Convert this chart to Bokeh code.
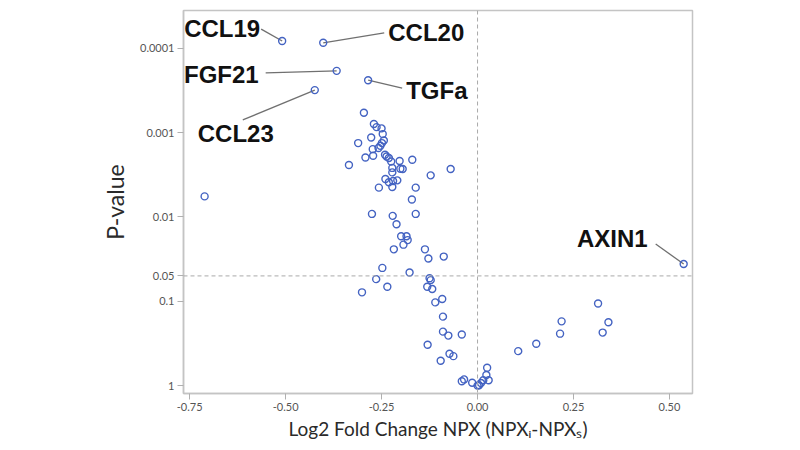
import math
from bokeh.plotting import figure
from bokeh.models import Range1d, FixedTicker, CustomJSTickFormatter, PrintfTickFormatter, Span, ColumnDataSource
from bokeh.core.properties import value
from bokeh.embed import file_html
from bokeh.resources import INLINE

# ---- data ----
fold_change = [-0.296, -0.270, -0.263, -0.250, -0.247, -0.277, -0.244, -0.311, -0.249, -0.273,
               -0.258, -0.253, -0.272, -0.292, -0.241, -0.237, -0.231, -0.225, -0.203, -0.170,
               -0.335, -0.222, -0.201, -0.195, -0.070, -0.222, -0.122, -0.240, -0.231, -0.220,
               -0.209, -0.257, -0.222, -0.161, -0.171, -0.275, -0.221, -0.161, -0.211, -0.199,
               -0.185, -0.182, -0.193, -0.218, -0.137, -0.128, -0.088, -0.248, -0.177, -0.125,
               -0.122, -0.264, -0.301, -0.235, -0.131, -0.118, -0.110, -0.092, -0.090, -0.090,
               -0.076, -0.041, -0.130, -0.073, -0.063, -0.096, 0.025, 0.023, -0.041, -0.035,
               -0.014, 0.029, 0.015, 0.009, 0.004, 0.000, 0.106, 0.153, 0.215, 0.219,
               0.314, 0.341, 0.326, -0.711]
p_values = [5.8e-4, 7.9e-4, 8.6e-4, 8.9e-4, 1.04e-3, 1.14e-3, 1.24e-3, 1.33e-3, 1.33e-3, 1.57e-3,
            1.52e-3, 1.43e-3, 1.88e-3, 1.97e-3, 1.83e-3, 1.92e-3, 2.0e-3, 2.2e-3, 2.17e-3, 2.1e-3,
            2.42e-3, 2.62e-3, 2.68e-3, 2.7e-3, 2.7e-3, 2.96e-3, 3.21e-3, 3.54e-3, 3.88e-3, 3.74e-3,
            3.68e-3, 4.49e-3, 4.41e-3, 4.49e-3, 6.2e-3, 9.2e-3, 9.7e-3, 9.2e-3, 0.0122, 0.0169,
            0.0169, 0.0188, 0.0213, 0.0242, 0.0242, 0.0311, 0.0295, 0.0402, 0.0455, 0.0532,
            0.0561, 0.0546, 0.0783, 0.0673, 0.0673, 0.0716, 0.103, 0.094, 0.152, 0.229,
            0.255, 0.248, 0.328, 0.419, 0.447, 0.507, 0.614, 0.748, 0.889, 0.844,
            0.923, 0.865, 0.865, 0.929, 0.99, 1.0, 0.390, 0.319, 0.242, 0.173,
            0.106, 0.177, 0.235, 5.7e-3]

label_names = ["CCL19", "CCL20", "FGF21", "TGFa", "CCL23", "AXIN1"]
label_fc = [-0.509, -0.402, -0.367, -0.285, -0.424, 0.537]
label_p = [8.2e-5, 8.6e-5, 1.85e-4, 2.39e-4, 3.13e-4, 0.0361]

x_ticks = [-0.75, -0.50, -0.25, 0.00, 0.25, 0.50]
y_ticks = [0.0001, 0.001, 0.01, 0.05, 0.1, 1]
p_threshold = 0.05
fc_zero = 0.0

# ---- styles ----
X_START, X_END = -0.766, 0.56
Y_BOTTOM, Y_TOP = 1.24, 3.56e-5
W, H = 792, 442
BL, BR, BT, BB = 183, 100, 10, 47
PT_COLOR = "#4463c2"

# label placement in screen pixels (dx, dy down), alignment, leader end offset
label_dx = [-22, 65, -78, 38, -79, -36]
label_dy = [-13, -10, 4, 10, 43, -25]
label_align = ["right", "left", "right", "left", "center", "right"]
lead_dx = [-21, 61, -71, 34, -72, -28]
lead_dy = [-12, -10, 2, 8, 30, -20]

p = figure(width=W, height=H, output_backend="svg", toolbar_location=None,
           y_axis_type="log",
           x_range=Range1d(X_START, X_END), y_range=Range1d(Y_BOTTOM, Y_TOP),
           min_border_left=BL, min_border_right=BR, min_border_top=BT, min_border_bottom=BB)
p.background_fill_color = "white"
p.border_fill_color = "white"
p.outline_line_color = "#c4c4c4"
p.outline_line_width = 1.5
p.xgrid.visible = False
p.ygrid.visible = False

for ax in (p.xaxis[0], p.yaxis[0]):
    ax.axis_line_color = "#c4c4c4"
    ax.axis_line_width = 1.5
    ax.major_tick_line_color = "#b0b0b0"
    ax.major_tick_out = 6
    ax.major_tick_in = 0
    ax.minor_tick_line_color = None
    ax.major_label_text_font = "Lato"
    ax.major_label_text_font_size = "11px"
    ax.major_label_text_color = "#555555"
    ax.axis_label_text_font = "Lato"
    ax.axis_label_text_font_style = "normal"
    ax.axis_label_text_color = "#2a2a2a"

p.xaxis.ticker = FixedTicker(ticks=x_ticks)
p.xaxis.formatter = PrintfTickFormatter(format="%.2f")
p.xaxis.major_label_standoff = 3
p.xaxis.axis_label = "Log2 Fold Change NPX (NPX\u1d62-NPX\u209b)"
p.xaxis.axis_label_text_font_size = "19px"
p.xaxis.axis_label_standoff = 3

p.yaxis.ticker = FixedTicker(ticks=y_ticks)
p.yaxis.formatter = CustomJSTickFormatter(code="return tick.toString();")
p.yaxis.major_label_standoff = 3
p.yaxis.axis_label = "P-value"
p.yaxis.axis_label_text_font_size = "23px"
p.yaxis.axis_label_standoff = 8

p.add_layout(Span(location=fc_zero, dimension="height", line_color="#aaaaaa", line_dash="4 3", line_width=1))
p.add_layout(Span(location=p_threshold, dimension="width", line_color="#aaaaaa", line_dash="4 3", line_width=1))

# leader lines: computed from data point + pixel offset via scale factors
fw = W - BL - BR
fh = H - BT - BB
px_per_x = fw / (X_END - X_START)
px_per_dec = fh / (math.log10(Y_BOTTOM) - math.log10(Y_TOP))
x1 = [x + dx / px_per_x for x, dx in zip(label_fc, lead_dx)]
y1 = [pv * 10 ** (dy / px_per_dec) for pv, dy in zip(label_p, lead_dy)]
p.segment(x0=label_fc, y0=label_p, x1=x1, y1=y1, line_color="#707070", line_width=1.3)

all_fc = fold_change + label_fc
all_p = p_values + label_p
p.scatter(all_fc, all_p, size=7, marker="circle", fill_color=None,
          line_color=PT_COLOR, line_width=1.4)

src = ColumnDataSource(dict(x=label_fc, y=label_p, t=label_names, dx=label_dx, dy=label_dy, al=label_align))
p.text(x="x", y="y", text="t", x_offset="dx", y_offset="dy", text_align="al",
       text_baseline="middle", source=src, text_font=value("Liberation Sans"),
       text_font_style="bold", text_font_size="24px", text_color="#111111")

open("out.html", "w").write(file_html(p, INLINE))
